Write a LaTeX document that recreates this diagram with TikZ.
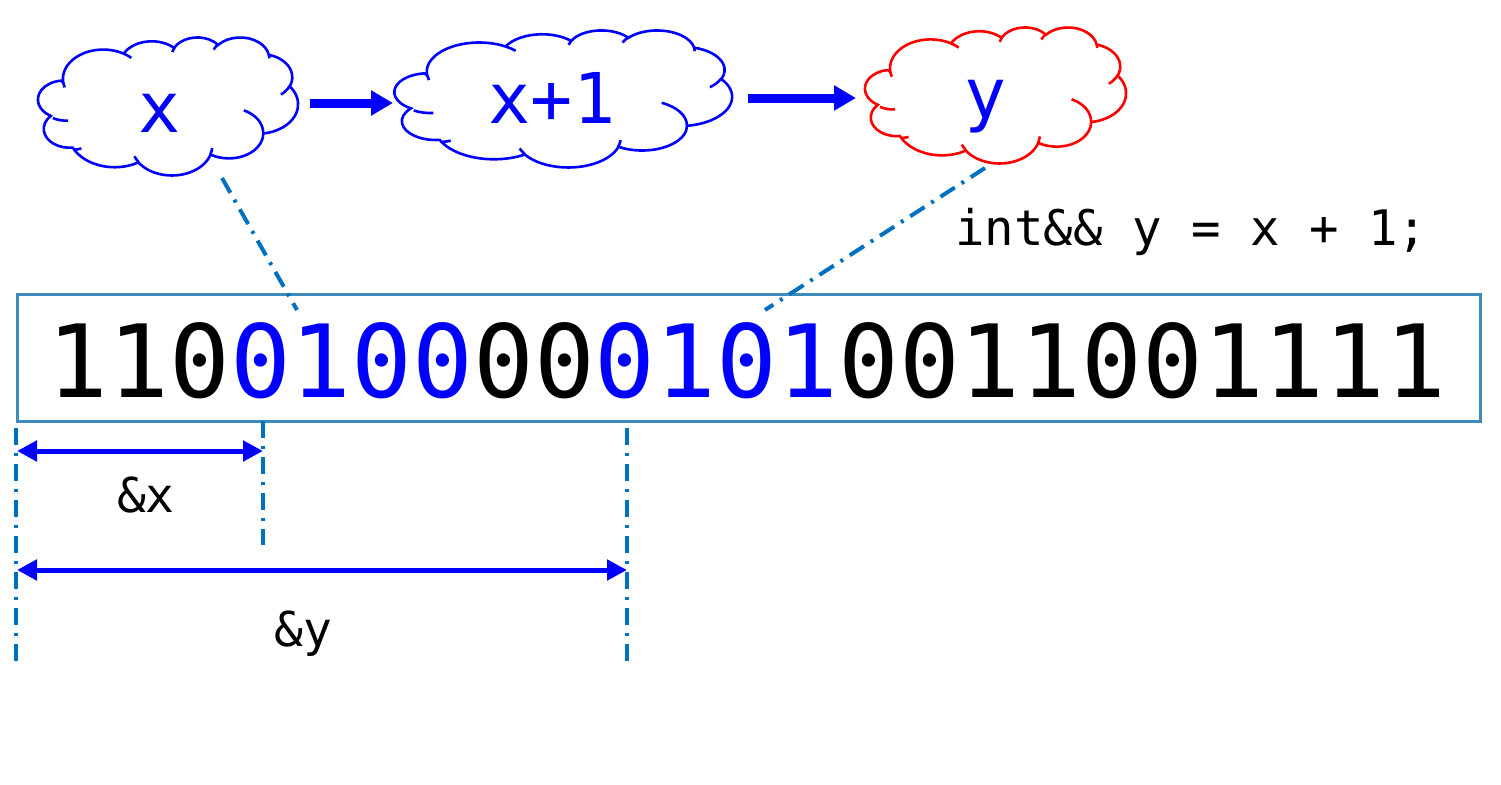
\documentclass[tikz,border=0pt]{standalone}
\usepackage{fontspec}
\setmonofont{DejaVu Sans Mono}
\usetikzlibrary{arrows.meta}
\definecolor{lineblue}{RGB}{0,112,192}
\definecolor{boxblue}{RGB}{62,138,186}
\definecolor{pblue}{RGB}{0,0,255}
\definecolor{pred}{RGB}{255,0,0}
% elliptical arc given with "visual" angles (as in DrawingML)
\newcommand\carc[4]{arc[x radius=#1, y radius=#2, start angle={atan2(#1*sin(#3),#2*cos(#3))}, delta angle={mod(atan2(#1*sin(#3+#4),#2*cos(#3+#4))-atan2(#1*sin(#3),#2*cos(#3))+720,360)}]}
\newcommand\cloudshape[5]{%
 \begin{scope}[shift={(#1,#2)}, x=#3pt, y=-#4pt, line width=2.6pt]
  \draw[#5, fill=white] (3.900,14.370)
   \carc{6.753}{9.190}{-190.4875}{123.7805}
   \carc{5.333}{7.267}{-144.1024}{89.9452}
   \carc{4.365}{5.945}{-145.8079}{99.7230}
   \carc{4.857}{6.595}{-130.9861}{117.2417}
   \carc{5.333}{7.273}{-78.7089}{109.0269}
   \carc{6.775}{9.220}{-46.2673}{130.2690}
   \carc{5.785}{7.867}{0.6250}{114.0333}
   \carc{6.752}{9.215}{22.4516}{115.1726}
   \carc{7.720}{10.543}{66.2426}{81.5875}
   \carc{4.360}{5.918}{-274.9421}{146.7356}
   \carc{4.345}{5.945}{-246.8285}{152.5226} -- cycle;
  \draw[#5]
   (4.693,26.177) \carc{4.345}{5.945}{86.7420}{26.4295}
   (6.928,34.899) \carc{4.360}{5.918}{73.6105}{11.4475}
   (16.478,39.090) \carc{6.752}{9.215}{137.6242}{14.0811}
   (28.827,34.751) \carc{6.752}{9.215}{6.4533}{15.9984}
   (34.129,22.954) \carc{5.785}{7.867}{-70.2924}{70.9174}
   (41.798,15.354) \carc{5.333}{7.273}{30.3180}{27.7515}
   (38.324,5.426) \carc{4.857}{6.595}{-13.7443}{14.8589}
   (29.078,3.952) \carc{4.857}{6.595}{-149.1815}{18.1954}
   (22.141,4.720) \carc{4.365}{5.945}{-163.4943}{17.6864}
   (14.000,5.192) \carc{6.753}{9.190}{-66.7070}{12.3194}
   (4.127,15.789) \carc{6.753}{9.190}{157.6544}{11.8582};
 \end{scope}}
\tikzset{
 cloudlabel/.style={anchor=base, inner sep=0pt, text=pblue, font=\ttfamily\fontsize{70}{70}\selectfont},
 flowarrow/.style={pblue, line width=9pt, -{Triangle[length=22pt,width=24pt]}},
 dimarrow/.style={pblue, line width=5pt, {Triangle[length=20pt,width=20pt]}-{Triangle[length=20pt,width=20pt]}},
 dashdot/.style={lineblue, line width=4pt, dash pattern=on 17pt off 8pt on 3pt off 8pt},
 smalltext/.style={inner sep=0pt, font=\ttfamily\fontsize{48}{48}\selectfont},
}
\begin{document}
\begin{tikzpicture}[x=1pt, y=-1pt]
\useasboundingbox (0,0) rectangle (1501,784);
\fill[white] (0,0) rectangle (1501,784);
% clouds
\cloudshape{40}{37}{5.972}{3.194}{pblue}
\cloudshape{397}{30}{7.755}{3.171}{pblue}
\cloudshape{867}{27}{5.995}{3.148}{pred}
\node[cloudlabel] (lx) at (160,132) {x};
\node[cloudlabel] (lx1) at (552,123) {x+1};
\node[cloudlabel] (ly) at (986,118) {y};
% arrows between clouds
\coordinate (a1s) at (310,103);
\coordinate (a1e) at (393,103);
\coordinate (a2s) at (748,98);
\coordinate (a2e) at (856,98);
\draw[flowarrow] (a1s) -- (a1e);
\draw[flowarrow] (a2s) -- (a2e);
% memory box
\node[draw=boxblue, line width=3pt, minimum width=1463pt, minimum height=127pt, inner sep=0pt] (mem) at (748.5,357.5) {};
\node[anchor=base, inner sep=0pt, font=\ttfamily\fontsize{101}{101}\selectfont] (bits) at (747,397)
 {110\textcolor{pblue}{0100}00\textcolor{pblue}{0101}0011001111};
% code
\node[smalltext, anchor=base west, font=\ttfamily\fontsize{49}{49}\selectfont] (code) at (955,245) {int\&\& y = x + 1;};
% dash-dot links from clouds to memory
\coordinate (d1a) at (222,178);
\coordinate (d1b) at (297,310);
\coordinate (d2a) at (985,168);
\coordinate (d2b) at (765,310);
\draw[dashdot] (d1a) -- (d1b);
\draw[dashdot] (d2a) -- (d2b);
% vertical guide lines
\coordinate (v1t) at (16,428);
\coordinate (v1b) at (16,665);
\coordinate (v2t) at (263,421);
\coordinate (v2b) at (263,545);
\coordinate (v3t) at (627,428);
\coordinate (v3b) at (627,665);
\draw[dashdot] (v1t) -- (v1b);
\draw[dashdot] (v2t) -- (v2b);
\draw[dashdot] (v3t) -- (v3b);
% dimension arrows
\coordinate (ax1) at (17,451);
\coordinate (ax2) at (263,451);
\coordinate (ay1) at (17,570);
\coordinate (ay2) at (627,570);
\draw[dimarrow] (ax1) -- (ax2);
\draw[dimarrow] (ay1) -- (ay2);
\node[smalltext, anchor=base] (lblx) at (146,512) {\&x};
\node[smalltext, anchor=base] (lbly) at (303,646) {\&y};
\end{tikzpicture}
\end{document}
